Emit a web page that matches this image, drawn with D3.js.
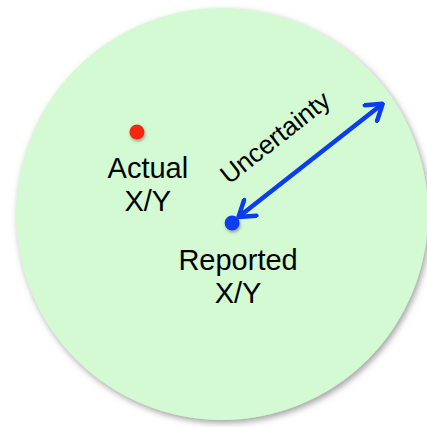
<!DOCTYPE html>
<html>
<head>
<meta charset="utf-8">
<script src="https://cdn.jsdelivr.net/npm/d3@7"></script>
<style>
  body { margin: 0; background: #fff; }
  text { font-family: "Liberation Sans", Arial, sans-serif; fill: #000; }
</style>
</head>
<body>
<script>
// data, in units of the circle radius (centre = 0,0)
const pointNames = ["Actual", "Reported"];
const pointX = [-0.413, 0.049];
const pointY = [-0.398, 0.044];
const pointColors = ["#f5250b", "#0a3cf0"];
const labelLines = [["Actual", "X/Y"], ["Reported", "X/Y"]];
const labelX = [-0.36, 0.078];
const labelY = [-0.175, 0.27];

// uncertainty arrow: from reported point to the edge
const arrowX = [0.08, 0.78];
const arrowY = [0.015, -0.535];
const arrowLabel = "Uncertainty";

// dimensions
const width = 427, height = 427;
const cx = 222, cy = 214, r = 206;

const x = d3.scaleLinear().domain([-1, 1]).range([cx - r, cx + r]);
const y = d3.scaleLinear().domain([-1, 1]).range([cy - r, cy + r]);

const svg = d3.select("body").append("svg")
    .attr("width", width)
    .attr("height", height);

const defs = svg.append("defs");

defs.append("filter")
    .attr("id", "shadow")
    .attr("x", "-20%").attr("y", "-20%")
    .attr("width", "140%").attr("height", "140%")
  .append("feDropShadow")
    .attr("dx", 2).attr("dy", 3)
    .attr("stdDeviation", 3)
    .attr("flood-color", "#666")
    .attr("flood-opacity", 0.6);

defs.append("filter")
    .attr("id", "dotshadow")
    .attr("x", "-50%").attr("y", "-50%")
    .attr("width", "200%").attr("height", "200%")
  .append("feDropShadow")
    .attr("dx", 1).attr("dy", 2)
    .attr("stdDeviation", 1.5)
    .attr("flood-color", "#555")
    .attr("flood-opacity", 0.5);

defs.append("marker")
    .attr("id", "head")
    .attr("viewBox", "-18 -12 20 24")
    .attr("refX", 0).attr("refY", 0)
    .attr("markerUnits", "userSpaceOnUse")
    .attr("markerWidth", 20).attr("markerHeight", 24)
    .attr("orient", "auto-start-reverse")
  .append("path")
    .attr("d", "M-15,-10 L0,0 L-15,10")
    .attr("fill", "none")
    .attr("stroke", "#0a3cf0")
    .attr("stroke-width", 4.5)
    .attr("stroke-linecap", "round")
    .attr("stroke-linejoin", "round");

// big uncertainty circle
svg.append("circle")
    .attr("cx", x(0))
    .attr("cy", y(0))
    .attr("r", x(1) - x(0))
    .attr("fill", "#d3fad3")
    .attr("filter", "url(#shadow)");

// arrow
svg.append("line")
    .attr("x1", x(arrowX[0])).attr("y1", y(arrowY[0]))
    .attr("x2", x(arrowX[1])).attr("y2", y(arrowY[1]))
    .attr("stroke", "#0a3cf0")
    .attr("stroke-width", 4.5)
    .attr("marker-start", "url(#head)")
    .attr("marker-end", "url(#head)");

// arrow label, rotated along the arrow
const ang = Math.atan2(y(arrowY[1]) - y(arrowY[0]), x(arrowX[1]) - x(arrowX[0])) * 180 / Math.PI;
const mx = (x(arrowX[0]) + x(arrowX[1])) / 2 - 30;
const my = (y(arrowY[0]) + y(arrowY[1])) / 2 - 16;
svg.append("text")
    .attr("transform", "translate(" + mx + "," + my + ") rotate(" + ang + ")")
    .attr("text-anchor", "middle")
    .attr("font-size", 26)
    .text(arrowLabel);

// points
svg.selectAll(".dot")
    .data(pointNames)
    .enter()
    .append("circle")
    .attr("class", "dot")
    .attr("cx", (d, i) => x(pointX[i]))
    .attr("cy", (d, i) => y(pointY[i]))
    .attr("r", 7.5)
    .attr("fill", (d, i) => pointColors[i])
    .attr("filter", "url(#dotshadow)");

// labels
const labels = svg.selectAll(".label")
    .data(pointNames)
    .enter()
    .append("text")
    .attr("class", "label")
    .attr("text-anchor", "middle")
    .attr("font-size", 29)
    .attr("transform", (d, i) => "translate(" + x(labelX[i]) + "," + y(labelY[i]) + ")");

labels.selectAll("tspan")
    .data((d, i) => labelLines[i])
    .enter()
    .append("tspan")
    .attr("x", 0)
    .attr("dy", (d, j) => j === 0 ? 0 : 33)
    .text(d => d);
</script>
</body>
</html>
